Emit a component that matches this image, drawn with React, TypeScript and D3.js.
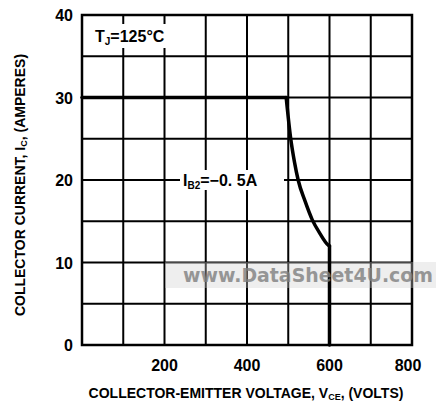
import React, { useEffect, useRef } from "react";
import * as d3 from "d3";

// safe operating area curve
const vce = [0, 495, 506, 515, 524, 541, 558, 577, 597, 600, 600];
const ic = [30, 30, 25, 22.2, 20, 17.4, 15.2, 13.5, 12.1, 12, 0];
const xTicks = [200, 400, 600, 800];
const yTicks = [0, 10, 20, 30, 40];
const xGrid = [100, 200, 300, 400, 500, 600, 700];
const yGrid = [5, 10, 15, 20, 25, 30, 35];

const FONT = "'Liberation Sans Narrow', 'Arial Narrow', 'Liberation Sans', Arial, sans-serif";

const App = () => {
  const svgRef = useRef<SVGSVGElement>(null);

  useEffect(() => {
    const width = 436;
    const height = 402;
    const margin = { top: 15, right: 24, bottom: 57, left: 82 };

    const svg = d3.select(svgRef.current).attr("width", width).attr("height", height);
    svg.selectAll("*").remove();

    const x = d3.scaleLinear().domain([0, 800]).range([margin.left, width - margin.right]);
    const y = d3.scaleLinear().domain([0, 40]).range([height - margin.bottom, margin.top]);

    svg.append("rect").attr("width", width).attr("height", height).attr("fill", "#fff");

    // grid
    svg.append("g")
      .selectAll("line")
      .data(xGrid)
      .join("line")
      .attr("x1", (d) => x(d))
      .attr("x2", (d) => x(d))
      .attr("y1", y(0))
      .attr("y2", y(40))
      .attr("stroke", "#000")
      .attr("stroke-width", 2);
    svg.append("g")
      .selectAll("line")
      .data(yGrid)
      .join("line")
      .attr("x1", x(0))
      .attr("x2", x(800))
      .attr("y1", (d) => y(d))
      .attr("y2", (d) => y(d))
      .attr("stroke", "#000")
      .attr("stroke-width", 2);

    // frame
    svg.append("rect")
      .attr("x", x(0))
      .attr("y", y(40))
      .attr("width", x(800) - x(0))
      .attr("height", y(0) - y(40))
      .attr("fill", "none")
      .attr("stroke", "#000")
      .attr("stroke-width", 2.5);

    // watermark band
    svg.append("rect")
      .attr("x", 165)
      .attr("y", 262)
      .attr("width", width - 165)
      .attr("height", 26)
      .attr("fill", "#cfcfcf")
      .attr("opacity", 0.35);

    // curve: flat part, smooth fall-off, vertical drop
    const pts = vce.map((v, i) => [v, ic[i]] as [number, number]);
    const straight = d3.line<[number, number]>()
      .x((d) => x(d[0]))
      .y((d) => y(d[1]));
    const smooth = d3.line<[number, number]>()
      .x((d) => x(d[0]))
      .y((d) => y(d[1]))
      .curve(d3.curveMonotoneX);
    const segs = [
      { d: straight(pts.slice(0, 2)) },
      { d: smooth(pts.slice(1, 10)) },
      { d: straight(pts.slice(9)) },
    ];
    svg.append("g")
      .selectAll("path")
      .data(segs)
      .join("path")
      .attr("d", (s) => s.d)
      .attr("fill", "none")
      .attr("stroke", "#000")
      .attr("stroke-width", 3.5)
      .attr("stroke-linecap", "round")
      .attr("stroke-linejoin", "round");

    // labels with white backgrounds
    svg.append("rect").attr("x", 90).attr("y", 24).attr("width", 86).attr("height", 24).attr("fill", "#fff");
    const tj = svg.append("text")
      .attr("x", 95)
      .attr("y", 42)
      .attr("font-family", FONT)
      .attr("font-weight", "bold")
      .attr("font-size", 16);
    tj.append("tspan").text("T");
    tj.append("tspan").attr("font-size", 10).attr("dy", 3).text("J");
    tj.append("tspan").attr("dy", -3).text("=125°C");

    svg.append("rect").attr("x", 180).attr("y", 170).attr("width", 104).attr("height", 20).attr("fill", "#fff");
    const ib = svg.append("text")
      .attr("x", 183)
      .attr("y", 186)
      .attr("font-family", FONT)
      .attr("font-weight", "bold")
      .attr("font-size", 16);
    ib.append("tspan").text("I");
    ib.append("tspan").attr("font-size", 10).attr("dy", 3).text("B2");
    ib.append("tspan").attr("dy", -3).text("=−0. 5A");

    // watermark text
    svg.append("text")
      .attr("x", 183)
      .attr("y", 282)
      .attr("font-family", "'DejaVu Sans', sans-serif")
      .attr("font-weight", "bold")
      .attr("font-size", 19)
      .attr("textLength", 250)
      .attr("lengthAdjust", "spacingAndGlyphs")
      .attr("fill", "#808080")
      .attr("opacity", 0.8)
      .text("www.DataSheet4U.com");

    // tick labels
    svg.append("g")
      .selectAll("text")
      .data(yTicks)
      .join("text")
      .attr("x", 73)
      .attr("y", (d) => y(d) + 6)
      .attr("text-anchor", "end")
      .attr("font-family", FONT)
      .attr("font-weight", "bold")
      .attr("font-size", 16)
      .text((d) => d);
    svg.append("g")
      .selectAll("text")
      .data(xTicks)
      .join("text")
      .attr("x", (d) => (d === 800 ? x(d) - 4 : x(d)))
      .attr("y", 371)
      .attr("text-anchor", "middle")
      .attr("font-family", FONT)
      .attr("font-weight", "bold")
      .attr("font-size", 16)
      .text((d) => d);

    // axis titles
    const xt = svg.append("text")
      .attr("x", 246)
      .attr("y", 398)
      .attr("text-anchor", "middle")
      .attr("font-family", FONT)
      .attr("font-weight", "bold")
      .attr("font-size", 14);
    xt.append("tspan").text("COLLECTOR-EMITTER VOLTAGE, V");
    xt.append("tspan").attr("font-size", 9).attr("dy", 2).text("CE");
    xt.append("tspan").attr("dy", -2).text(", (VOLTS)");

    const yt = svg.append("text")
      .attr("transform", "translate(25,185) rotate(-90)")
      .attr("text-anchor", "middle")
      .attr("font-family", FONT)
      .attr("font-weight", "bold")
      .attr("font-size", 14);
    yt.append("tspan").text("COLLECTOR CURRENT, I");
    yt.append("tspan").attr("font-size", 9).attr("dy", 2).text("C");
    yt.append("tspan").attr("dy", -2).text(", (AMPERES)");
  }, []);

  return <svg ref={svgRef} style={{ position: "absolute", left: 0, top: 0 }}></svg>;
};

export default App;
